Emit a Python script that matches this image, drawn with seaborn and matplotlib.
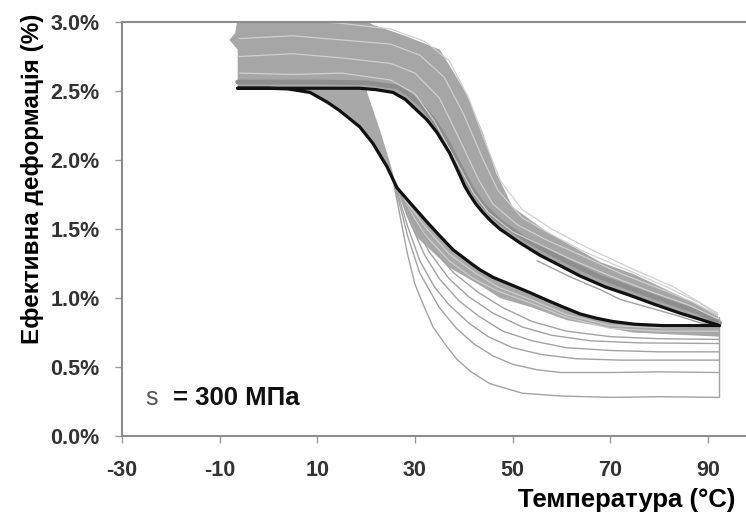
import matplotlib
matplotlib.use("Agg")
import matplotlib.pyplot as plt
import matplotlib.font_manager as fm
import pandas as pd
import seaborn as sns

# ---------------- data ----------------
x_ticks = [-30, -10, 10, 30, 50, 70, 90]
x_tick_labels = ["-30", "-10", "10", "30", "50", "70", "90"]
y_ticks = [0.0, 0.5, 1.0, 1.5, 2.0, 2.5, 3.0]
y_tick_labels = ["0.0%", "0.5%", "1.0%", "1.5%", "2.0%", "2.5%", "3.0%"]

# black reference loop: heating branch then cooling branch
black_heat_x = [-6.3, 0, 10, 18.7, 22, 25.5, 28, 30.4, 32.5, 34.5, 37.1, 39.2, 40.2, 41.2, 42.5, 43.9, 45.5,
                47.4, 51.5, 55.6, 60, 63.8, 69, 74, 79, 84.3, 88, 92.4]
black_heat_y = [2.52, 2.52, 2.52, 2.52, 2.51, 2.49, 2.44, 2.36, 2.29, 2.20, 2.05, 1.89, 1.81, 1.75, 1.68, 1.62, 1.56,
                1.50, 1.40, 1.31, 1.23, 1.16, 1.08, 1.02, 0.955, 0.89, 0.85, 0.80]
black_cool_x = [92.4, 86, 80.8, 75, 70.5, 67, 63.8, 60, 57, 53.5, 50.1, 46, 43.3, 41.9, 37.8, 35.1,
                32.5, 29, 26.3, 24.3, 21.4, 18.7, 14.5, 12, 8.5, 4, 0, -6.3]
black_cool_y = [0.80, 0.80, 0.80, 0.81, 0.83, 0.855, 0.885, 0.94, 0.985, 1.04, 1.09, 1.15, 1.205, 1.24, 1.35, 1.45,
                1.55, 1.69, 1.80, 1.95, 2.12, 2.24, 2.36, 2.42, 2.49, 2.515, 2.52, 2.52]

# envelope of the dense band of gray heating curves (outer edge)
heat_outer_x = [-6.3, -6.3, -8.0, -6.8, -6.0, 15, 21.4, 28, 35.1, 40.4, 43.9, 46.6, 50, 57, 62, 68, 75, 85.7, 92, 92.4]
heat_outer_y = [2.52, 2.80, 2.87, 2.92, 3.10, 3.10, 2.98, 2.90, 2.80, 2.49, 2.20, 1.91, 1.66, 1.48, 1.38, 1.26, 1.17, 0.99, 0.88, 0.80]

# envelope of the dense band of gray cooling curves
cool_edge_x = [0, 20, 20.2, 22.8, 24.9, 26.3, 28.2, 30.4, 37.1, 43.9, 47.4, 54.1, 61.1, 74.6, 92.3, 92.4]
cool_edge_y = [2.55, 2.55, 2.49, 2.22, 1.98, 1.80, 1.60, 1.44, 1.22, 1.08, 1.00, 0.93, 0.84, 0.75, 0.72, 0.80]

# individual gray heating curves (inside the band)
h0_x = [-6.3, 10, 20, 26.5, 29, 31.5, 34, 36.5, 39, 41.5, 44, 47.5, 52, 57, 62, 68, 75, 82, 88, 92.4]
h0_y = [2.565, 2.565, 2.56, 2.53, 2.47, 2.39, 2.28, 2.14, 1.97, 1.80, 1.67, 1.55, 1.44, 1.34, 1.25, 1.15, 1.06, 0.97, 0.90, 0.82]
h1_x = [-6, 5, 15, 25, 30, 34, 38, 42, 45, 50, 56, 62, 70, 78, 86, 92]
h1_y = [2.63, 2.62, 2.63, 2.58, 2.48, 2.28, 2.02, 1.76, 1.62, 1.48, 1.38, 1.28, 1.16, 1.05, 0.95, 0.85]
h2_x = [-6, 5, 15, 25, 30, 35, 39, 43, 46, 51, 57, 64, 72, 80, 87, 92]
h2_y = [2.75, 2.77, 2.74, 2.70, 2.63, 2.45, 2.16, 1.86, 1.68, 1.53, 1.42, 1.31, 1.18, 1.07, 0.97, 0.87]
h3_x = [-6, 5, 15, 25, 31, 36, 40, 44, 47, 52, 58, 65, 73, 81, 88, 92]
h3_y = [2.88, 2.90, 2.87, 2.84, 2.76, 2.60, 2.33, 2.00, 1.78, 1.58, 1.46, 1.33, 1.21, 1.09, 0.97, 0.88]
h4_x = [-6, 5, 15, 25, 32, 37, 41, 44.5, 47.5, 52, 58, 65, 74, 83, 92]
h4_y = [3.00, 3.02, 2.99, 2.95, 2.86, 2.72, 2.45, 2.12, 1.85, 1.64, 1.50, 1.37, 1.22, 1.08, 0.89]
h5_x = [55, 62, 68, 72, 78, 84, 88.4, 92.3]
h5_y = [1.27, 1.15, 1.06, 0.99, 0.93, 0.87, 0.82, 0.80]

# individual gray cooling curves
d1_x = [92.2, 80, 70, 61, 54, 47, 42, 37, 32, 28.5, 26.3]
d1_y = [0.76, 0.76, 0.78, 0.86, 0.96, 1.05, 1.14, 1.27, 1.46, 1.66, 1.80]
d2_x = [92.2, 80, 70, 61, 54, 47, 42, 37, 32, 28, 26.3]
d2_y = [0.79, 0.785, 0.80, 0.88, 0.985, 1.08, 1.19, 1.32, 1.52, 1.71, 1.80]
c1_x = [92.3, 80, 70, 60, 52, 45.3, 41.3, 38.5, 36.5, 33.7, 31.6, 30, 28.4, 25.6]
c1_y = [0.28, 0.285, 0.28, 0.29, 0.31, 0.38, 0.47, 0.56, 0.65, 0.79, 0.96, 1.10, 1.33, 1.84]
c2_x = [92.3, 80, 70, 60, 55, 50, 46, 42, 38.5, 35, 31, 28.5, 25.7]
c2_y = [0.46, 0.465, 0.46, 0.46, 0.48, 0.52, 0.58, 0.67, 0.78, 0.93, 1.18, 1.45, 1.84]
c3_x = [92.3, 82, 72, 63, 56, 50, 45, 41, 37, 34, 31, 28.5, 25.8]
c3_y = [0.55, 0.55, 0.55, 0.56, 0.59, 0.64, 0.72, 0.82, 0.95, 1.08, 1.27, 1.52, 1.84]
c4_x = [92.3, 80, 70, 61, 54, 48, 43, 39, 35, 32, 29, 26]
c4_y = [0.61, 0.61, 0.62, 0.64, 0.69, 0.76, 0.87, 0.98, 1.14, 1.31, 1.55, 1.83]
c5_x = [92.3, 76, 66, 58, 52, 46, 41, 37, 33, 29.5, 26.2]
c5_y = [0.67, 0.675, 0.69, 0.73, 0.79, 0.89, 1.01, 1.14, 1.33, 1.56, 1.82]
c6_x = [92.3, 80, 70, 61, 54, 48, 43, 38, 34, 30, 26.3]
c6_y = [0.70, 0.705, 0.72, 0.76, 0.83, 0.93, 1.04, 1.18, 1.34, 1.55, 1.80]
end_x = [92.3, 92.3]
end_y = [0.86, 0.28]

# ---------------- styling ----------------
sns.set_theme(style="white")
plt.rcParams["font.family"] = ["Liberation Sans", "DejaVu Sans"]

names = {f.name for f in fm.fontManager.ttflist}
if "Liberation Sans Narrow" in names:
    ylab_family, ylab_size = ["Liberation Sans Narrow", "DejaVu Sans"], 21.5
else:
    ylab_family, ylab_size = ["Liberation Sans", "DejaVu Sans"], 17.5

fig = plt.figure(figsize=(7.46, 5.23), dpi=100)
ax = fig.add_axes([0.1635, 0.1663, 0.8365, 0.7916])


def curves_df(pairs):
    frames = []
    for i, (xs, ys) in enumerate(pairs):
        frames.append(pd.DataFrame({"T": xs, "eps": ys, "curve": i}))
    return pd.concat(frames, ignore_index=True)


# dense bands
ax.fill(heat_outer_x + black_heat_x[::-1], heat_outer_y + black_heat_y[::-1],
        color="#a6a6a6", lw=0, zorder=1)
ax.fill(black_cool_x + cool_edge_x, black_cool_y + cool_edge_y,
        color="#a8a8a8", lw=0, zorder=1)

# darker strip just above the black heating branch
sns.lineplot(data=curves_df([(h0_x, h0_y)]), x="T", y="eps", units="curve", estimator=None,
             sort=False, color="#8e8e8e", lw=3.5, ax=ax, zorder=2)
# light streaks inside heating band
sns.lineplot(data=curves_df([(h1_x, h1_y), (h2_x, h2_y), (h3_x, h3_y), (h4_x, h4_y)]),
             x="T", y="eps", units="curve", estimator=None, sort=False,
             color="#d0d0d0", lw=0.9, ax=ax, zorder=2)
# gray line below the black heating branch
sns.lineplot(data=curves_df([(h5_x, h5_y)]), x="T", y="eps", units="curve", estimator=None,
             sort=False, color="#a0a0a0", lw=1.0, ax=ax, zorder=2)
# light streaks inside cooling band
sns.lineplot(data=curves_df([(d1_x, d1_y), (d2_x, d2_y)]), x="T", y="eps", units="curve",
             estimator=None, sort=False, color="#cdcdcd", lw=0.9, ax=ax, zorder=2)
# thin individual cooling curves
sns.lineplot(data=curves_df([(c1_x, c1_y), (c2_x, c2_y), (c3_x, c3_y), (c4_x, c4_y),
                             (c5_x, c5_y), (c6_x, c6_y), (end_x, end_y)]),
             x="T", y="eps", units="curve", estimator=None, sort=False,
             color="#a3a3a3", lw=1.0, ax=ax, zorder=2)
# black loop
sns.lineplot(x=black_heat_x + black_cool_x, y=black_heat_y + black_cool_y,
             estimator=None, sort=False, color="#111111", lw=2.3, ax=ax, zorder=5)

# axes
ax.set_xlim(-30, 97.8)
ax.set_ylim(0.0, 3.0)
ax.set_xticks(x_ticks, x_tick_labels, fontweight="bold")
ax.set_yticks(y_ticks, y_tick_labels, fontweight="bold")
ax.tick_params(axis="both", bottom=True, left=True, direction="out", length=5, width=1,
               color="#999999", labelsize=15.5, labelcolor="#333333")
ax.tick_params(axis="x", pad=12)
ax.tick_params(axis="y", pad=11)
ax.spines["right"].set_visible(False)
for s in ("left", "bottom", "top"):
    ax.spines[s].set_color("#8c8c8c")
    ax.spines[s].set_linewidth(1.5)

ax.set_xlabel("Температура (°C)", fontsize=18.5, fontweight="bold", color="black")
ax.xaxis.label.set_ha("right")
ax.xaxis.set_label_coords((735 - 122) / 624, -0.125)
ax.set_ylabel("Ефективна деформація (%)", fontsize=ylab_size, fontweight="bold",
              color="black", family=ylab_family)
ax.yaxis.set_label_coords(-0.125, 0.621)

ax.text(-25.3, 0.225, "s", fontsize=18, color="#555555", va="baseline", ha="left")
ax.text(-19.6, 0.225, "= 300 МПа", fontsize=18.5, fontweight="bold", color="#111111",
        va="baseline", ha="left")

fig.savefig("out.png", dpi=100)
